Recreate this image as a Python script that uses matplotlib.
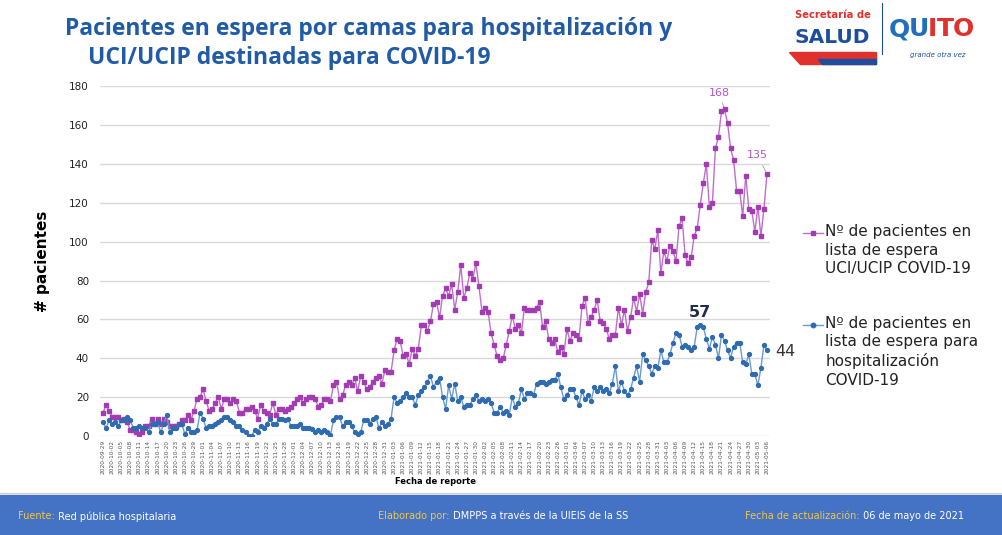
import numpy as np
import pandas as pd
import matplotlib
matplotlib.use("Agg")
import matplotlib.pyplot as plt
from matplotlib.lines import Line2D
from matplotlib.patches import Rectangle, Polygon

MAGENTA = "#A33BB3"
MAG_LN = "#BE6FCB"
BLUE = "#2F6BAF"
BLUE_LN = "#6A9BD0"
TITLE = "#1F5BA6"
BAND = "#4472C4"
YELLOW = "#F5C542"

# daily report dates (2020-09-29 .. 2021-05-06)
dates = pd.date_range("2020-09-29", "2021-05-06", freq="D")

uci = [12, 16, 13, 10, 10, 10, 8, 9, 7, 3, 3, 2, 1, 2, 5, 5, 9, 6, 9, 6,
       9, 7, 5, 5, 5, 6, 8, 8, 11, 8, 13, 19, 20, 24, 18, 13, 14, 17, 20, 14,
       19, 19, 17, 19, 18, 12, 12, 14, 14, 15, 13, 9, 16, 13, 12, 11, 17, 11, 14, 14,
       13, 14, 15, 17, 19, 20, 17, 19, 20,
       20, 19, 15, 16, 19, 19, 18, 26, 28, 19, 21, 26, 28, 26, 30, 23, 31, 28, 24, 25,
       28, 30, 31, 27, 34, 33, 33, 44, 50, 49, 41, 42, 37, 45, 41, 45, 57, 57, 54, 59,
       68, 69, 61, 72, 76, 72, 78, 65, 74, 88, 71, 76, 84, 81, 89, 77, 64, 66, 64, 53,
       47, 41, 39, 40, 47, 54, 62, 55, 57, 53, 66, 65, 65, 65, 66, 69,
       56, 59, 50, 48, 50, 43, 46, 42, 55, 49, 53, 52, 50, 67, 71, 58, 61, 65, 70, 59,
       58, 55, 50, 52, 52, 66, 57, 65, 54, 61, 71, 64, 73, 63, 74, 79, 101, 96, 106, 84,
       95, 90, 98, 95, 90, 108, 112, 93, 89, 92, 103, 107, 119, 130, 140, 118, 120, 148, 154, 167,
       168, 161, 148, 142, 126, 126, 113, 134, 117, 116, 105, 118, 103, 117, 135]

hosp = [7, 4, 8, 6, 7, 5, 8, 8, 10, 8, 4, 4, 5, 4, 4, 2, 6, 6, 7, 2,
        6, 11, 2, 4, 4, 6, 6, 1, 4, 2, 2, 3, 12, 9, 4, 5, 5, 6, 7, 8,
        10, 10, 8, 7, 5, 5, 3, 2, 0, 0, 3, 2, 5, 4, 6, 9, 6, 6, 9, 9,
        8, 9, 5, 5, 5, 6, 4, 4, 4,
        3.5, 2, 3, 2, 3, 2, 0.5, 8, 10, 10, 5, 7, 7, 5, 2, 1, 2, 8, 8, 6,
        9, 10, 4, 7, 5, 6, 9, 20, 17, 18, 20, 22, 20, 20, 16, 21, 23, 25, 28, 31,
        25, 28, 30, 20, 14, 26, 19, 27, 18, 20, 15, 16, 16, 19, 21, 18, 19, 18, 19, 17,
        12, 12, 15, 12, 13, 11, 20, 15, 17, 24, 19, 22, 22, 21, 27, 28,
        28, 27, 28, 29, 29, 32, 25, 19, 21, 24, 24, 20, 16, 23, 19, 21, 18, 25, 23, 25,
        23, 24, 22, 27, 36, 23, 28, 23, 21, 24, 30, 36, 28, 42, 39, 36, 32, 36, 35, 44,
        38, 38, 42, 48, 53, 52, 46, 47, 46, 44, 46, 56, 57, 56, 50, 45, 51, 47, 40, 52,
        49, 44, 40, 46, 48, 48, 38, 37, 42, 32, 32, 26, 35, 47, 44]

uci_label = "Nº de pacientes en\nlista de espera\nUCI/UCIP COVID-19"
hosp_label = "Nº de pacientes en\nlista de espera para\nhospitalización\nCOVID-19"
tick_labels = [d.strftime("%Y-%m-%d") for d in dates[::3]]

fig = plt.figure(figsize=(10.03, 5.35), dpi=100)
fig.patch.set_facecolor("white")
ax = fig.add_axes([0.0997, 0.185, 0.668, 0.654])

x = np.arange(len(dates))
ax.plot(x, uci, color=MAG_LN, linewidth=1.0, marker="s", markersize=3.4,
        markerfacecolor=MAGENTA, markeredgecolor=MAGENTA, zorder=3)
ax.plot(x, hosp, color=BLUE_LN, linewidth=1.0, marker="o", markersize=2.8,
        markerfacecolor=BLUE, markeredgecolor=BLUE, zorder=3)

ax.set_xlim(-1, len(dates))
ax.set_ylim(0, 180)
ax.set_yticks(range(0, 181, 20))
ax.tick_params(axis="y", labelsize=7.5, length=0, pad=8, labelcolor="#222222")
ax.set_xticks(x[::3])
ax.set_xticklabels(tick_labels, rotation=90, fontsize=4.2, color="#555555")
ax.tick_params(axis="x", length=0, pad=3)
ax.grid(axis="y", color="#D9D9D9", linewidth=1.0)
ax.set_axisbelow(True)
for s in ax.spines.values():
    s.set_visible(False)
ax.set_ylabel("# pacientes", fontsize=11, fontweight="bold", labelpad=14)
ax.set_xlabel("Fecha de reporte", fontsize=6, fontweight="bold", labelpad=2)

# data labels
i_max = int(np.argmax(uci))
ax.annotate(str(uci[i_max]), (x[i_max], uci[i_max]), xytext=(-4, 10),
            textcoords="offset points", ha="center", fontsize=8, color="#B455C4",
            arrowprops=dict(arrowstyle="-", color="#999999", lw=0.6))
ax.annotate(str(uci[-1]), (x[-1], uci[-1]), xytext=(-7, 11),
            textcoords="offset points", ha="center", fontsize=8, color="#B455C4",
            arrowprops=dict(arrowstyle="-", color="#999999", lw=0.6))
j_max = int(np.argmax(hosp))
ax.annotate(str(int(hosp[j_max])), (x[j_max], hosp[j_max]), xytext=(0, 6),
            textcoords="offset points", ha="center", fontsize=11.5,
            fontweight="bold", color="#1F2D4A")
ax.annotate(str(int(hosp[-1])), (x[-1], hosp[-1]), xytext=(6, -1),
            textcoords="offset points", ha="left", va="center", fontsize=11.5,
            color="#333333")

# legend on the right
for yl, col, lcol, mk, lbl in [(0.564, MAGENTA, MAG_LN, "s", uci_label),
                               (0.393, BLUE, BLUE_LN, "o", hosp_label)]:
    fig.add_artist(Line2D([0.801, 0.821], [yl, yl], color=lcol, lw=1.0))
    fig.add_artist(Line2D([0.811], [yl], marker=mk, markersize=3.2,
                          color=col, lw=0))
    fig.text(0.823, yl + 0.017, lbl, fontsize=11, color="#222222",
             va="top", ha="left", linespacing=1.3)

# title
fig.text(0.065, 0.945, "Pacientes en espera por camas para hospitalización y",
         fontsize=16.5, fontweight="bold", color=TITLE, family="Open Sans",
         va="center")
fig.text(0.088, 0.892, "UCI/UCIP destinadas para COVID-19",
         fontsize=16.5, fontweight="bold", color=TITLE, family="Open Sans",
         va="center")

# logo block
fig.text(0.830, 0.972, "Secretaría de", fontsize=7.2, fontweight="bold",
         color="#E0312C", ha="center", va="center")
fig.text(0.830, 0.930, "SALUD", fontsize=14.5, fontweight="bold",
         color="#1D4E9E", ha="center", va="center")
fig.add_artist(Polygon([[0.787, 0.903], [0.873, 0.903], [0.873, 0.880],
                        [0.798, 0.880]], closed=True, color="#E0312C"))
fig.add_artist(Polygon([[0.816, 0.890], [0.873, 0.890], [0.873, 0.880],
                        [0.820, 0.880]], closed=True, color="#1D4E9E"))
fig.add_artist(Line2D([0.879, 0.879], [0.900, 0.995], color="#1D4E9E", lw=0.8))
qx = 0.886
for ch, col in zip("QUITO", ["#1F6FC0", "#1F6FC0", "#E0312C", "#E0312C", "#E0312C"]):
    t = fig.text(qx, 0.945, ch, fontsize=18, fontweight="bold", color=col,
                 va="center", ha="left")
    fig.canvas.draw()
    bb = t.get_window_extent()
    qx = bb.x1 / fig.bbox.width - 0.001
fig.text(0.935, 0.898, "grande otra vez", fontsize=5, style="italic",
         color="#1D4E9E", ha="center", va="center")

# footer band
fig.add_artist(Rectangle((0, 0), 1, 0.075, transform=fig.transFigure,
                         color=BAND, zorder=0))
fig.add_artist(Line2D([0, 1], [0.078, 0.078], color="#D0D0D0", lw=1.0))

footer = [(0.018, "Fuente:", " Red pública hospitalaria"),
          (0.377, "Elaborado por:", " DMPPS a través de la UIEIS de la SS"),
          (0.743, "Fecha de actualización:", " 06 de mayo de 2021")]
fig.canvas.draw()
for fx, key, val in footer:
    t = fig.text(fx, 0.035, key, fontsize=7, color=YELLOW, va="center",
                 family="Liberation Sans Narrow")
    fig.canvas.draw()
    bb = t.get_window_extent()
    fig.text(bb.x1 / fig.bbox.width, 0.035, val, fontsize=7, color="white",
             va="center", family="Liberation Sans Narrow")

fig.savefig("out.png", dpi=100)
plt.close(fig)
